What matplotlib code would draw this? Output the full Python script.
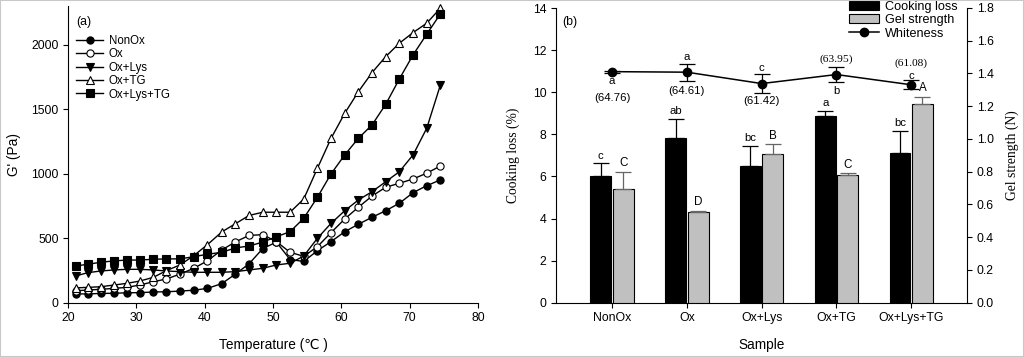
import numpy as np
import matplotlib
matplotlib.use("Agg")
import matplotlib.pyplot as plt
from matplotlib.patches import Patch, Rectangle
from matplotlib.lines import Line2D

plt.rcParams['font.family'] = ['Liberation Sans', 'DejaVu Sans']

# ---- panel (a): storage modulus vs temperature ----
temp = [21.1, 22.9, 24.8, 26.7, 28.6, 30.5, 32.5, 34.4, 36.4, 38.4, 40.4, 42.5, 44.5, 46.5,
        48.5, 50.5, 52.5, 54.5, 56.5, 58.5, 60.5, 62.5, 64.5, 66.5, 68.5, 70.5, 72.5, 74.5]
g_nonox = [68, 68, 72, 73, 77, 78, 83, 85, 90, 97, 111, 148, 222, 302,
           420, 470, 335, 320, 404, 474, 551, 609, 663, 714, 772, 854, 908, 953]
g_ox = [93, 98, 104, 111, 119, 137, 163, 184, 222, 267, 325, 409, 472, 522,
        528, 474, 391, 360, 435, 544, 650, 741, 828, 896, 927, 960, 1005, 1061]
g_ox_lys = [207, 233, 246, 254, 259, 259, 254, 246, 241, 236, 236, 236, 241, 254,
            267, 293, 306, 362, 500, 616, 714, 797, 862, 939, 1017, 1147, 1354, 1690]
g_ox_tg = [115, 119, 124, 137, 150, 168, 197, 249, 293, 365, 450, 549, 613, 677,
           702, 702, 702, 805, 1043, 1276, 1470, 1638, 1786, 1910, 2014, 2096, 2169, 2286]
g_ox_lys_tg = [285, 298, 314, 324, 331, 331, 337, 340, 340, 357, 376, 391, 425, 440,
               470, 512, 551, 655, 818, 1000, 1147, 1276, 1380, 1540, 1737, 1923, 2084, 2241]
series_a = ['NonOx', 'Ox', 'Ox+Lys', 'Ox+TG', 'Ox+Lys+TG']

# ---- panel (b): bars + whiteness ----
samples = ['NonOx', 'Ox', 'Ox+Lys', 'Ox+TG', 'Ox+Lys+TG']
cooking_loss = [6.02, 7.81, 6.51, 8.87, 7.10]
cooking_sd = [0.60, 0.92, 0.95, 0.24, 1.06]
gel_strength = [0.693, 0.552, 0.908, 0.782, 1.212]
gel_sd = [0.107, 0.010, 0.061, 0.008, 0.047]
whiteness = [64.76, 64.61, 61.42, 63.95, 61.08]
whiteness_sd = [0.3, 2.4, 2.6, 2.0, 1.2]
cl_letters = ['c', 'ab', 'bc', 'a', 'bc']
gel_letters = ['C', 'D', 'B', 'C', 'A']
wh_letters = ['a', 'a', 'c', 'b', 'c']

W, H = 1024, 357
fig = plt.figure(figsize=(W / 100, H / 100), dpi=100)
fig.patches.append(Rectangle((0, 0), 1, 1, transform=fig.transFigure, fill=False,
                             edgecolor='#c8c8c8', lw=1.5))

def px_axes(l, t, r, b):
    return fig.add_axes([l / W, 1 - b / H, (r - l) / W, (b - t) / H])

TICK = 8.8

# ---------------- panel (a) ----------------
axA = px_axes(68, 6.3, 478, 302.7)
styles = [dict(marker='o', mfc='black'), dict(marker='o', mfc='white'),
          dict(marker='v', mfc='black'), dict(marker='^', mfc='white'),
          dict(marker='s', mfc='black')]
for name, vals, st in zip(series_a, [g_nonox, g_ox, g_ox_lys, g_ox_tg, g_ox_lys_tg], styles):
    axA.plot(temp, vals, color='black', lw=1.0, ms=5.2, mec='black', mew=0.8,
             label=name, clip_on=False, **st)
axA.set_xlim(20, 80)
axA.set_ylim(0, 2300)
axA.set_xticks(range(20, 81, 10))
axA.set_yticks(range(0, 2001, 500))
for s in ['top', 'right']:
    axA.spines[s].set_visible(False)
for s in ['left', 'bottom']:
    axA.spines[s].set_linewidth(0.8)
axA.tick_params(direction='out', length=3.8, width=0.8, labelsize=TICK, pad=3)
axA.set_xlabel('Temperature (℃ )', fontsize=9.8, family=['Liberation Sans', 'DejaVu Sans'])
axA.xaxis.set_label_coords(0.5, -0.118)
axA.set_ylabel("G' (Pa)", fontsize=9.8)
axA.yaxis.set_label_coords(-0.115, 0.5)
axA.text(84 / W, 1 - 22.5 / H, '(a)', transform=fig.transFigure, fontsize=8.8,
         ha='center', va='center')
axA.legend(loc='upper left', bbox_to_anchor=(76 / W, 1 - 35 / H),
           bbox_transform=fig.transFigure, frameon=False, fontsize=8.3,
           handlelength=2.35, handletextpad=0.5, labelspacing=0.12,
           borderpad=0, borderaxespad=0)

# ---------------- panel (b) ----------------
axB = px_axes(556, 8, 967.3, 302.7)
axB2 = axB.twinx()
axB3 = axB.twinx()
x = np.arange(1, len(samples) + 1)
bw = 0.28
off = 0.15
zeros = np.zeros(len(samples))

axB.bar(x - off, cooking_loss, bw, color='black', edgecolor='black', lw=0.8,
        yerr=[zeros, cooking_sd], error_kw=dict(ecolor='black', elinewidth=0.9, capsize=6, capthick=0.9))
axB2.bar(x + off, gel_strength, bw, color='#c0c0c0', edgecolor='black', lw=0.8,
         yerr=[zeros, gel_sd], error_kw=dict(ecolor='#666666', elinewidth=0.9, capsize=6, capthick=0.9))
axB3.errorbar(x, whiteness, yerr=whiteness_sd, color='black', lw=1.1, marker='o', ms=6,
              ecolor='black', elinewidth=0.9, capsize=5.5, capthick=0.9)

axB.set_xlim(0.25, 5.75)
axB.set_ylim(0, 14)
axB2.set_ylim(0, 1.8)
axB3.set_ylim(0, 82.6)
axB3.axis('off')

axB.set_xticks(x)
axB.set_xticklabels(samples)
axB.set_yticks(range(0, 15, 2))
axB2.set_yticks(np.arange(0, 1.81, 0.2))
axB2.set_yticklabels([f'{v:.1f}' for v in np.arange(0, 1.81, 0.2)])
for a in [axB, axB2]:
    a.spines['top'].set_visible(False)
    for s in ['left', 'right', 'bottom']:
        a.spines[s].set_linewidth(0.8)
axB.spines['right'].set_visible(False)
axB2.spines['left'].set_visible(False)
axB2.spines['bottom'].set_visible(False)
axB.tick_params(direction='out', length=3.8, width=0.8, labelsize=TICK, pad=3)
axB2.tick_params(direction='out', length=3.8, width=0.8, labelsize=TICK, pad=3)

axB.set_xlabel('Sample', fontsize=9.8)
axB.xaxis.set_label_coords(0.5, -0.12)
axB.set_ylabel('Cooking loss (%)', fontsize=9.8, family='Liberation Serif')
axB.yaxis.set_label_coords(-0.088, 0.5)
axB2.set_ylabel('Gel strength (N)', fontsize=9.8, family='Liberation Serif')
axB2.yaxis.set_label_coords(1.093, 0.5)

# letters over the bars
for xi, v, sd, lab in zip(x - off, cooking_loss, cooking_sd, cl_letters):
    axB.annotate(lab, (xi, v + sd), xytext=(0, 5.6), textcoords='offset points',
                 ha='center', va='center', fontsize=8.2)
for xi, v, sd, lab in zip(x + off, gel_strength, gel_sd, gel_letters):
    axB2.annotate(lab, (xi, v + sd), xytext=(0, 6.0), textcoords='offset points',
                  ha='center', va='center', fontsize=8.4)

# whiteness letters and values (offsets in points from the marker)
letter_dy = [-6.7, 10.8, 11.2, -11.5, 6.5]
value_dy = [-19.2, -13.7, -12.5, 11.3, 15.6]
value_font = ['Liberation Sans', 'Liberation Sans', 'Liberation Sans',
              'Liberation Serif', 'Liberation Serif']
for xi, v, lab, dl, dv, fam in zip(x, whiteness, wh_letters, letter_dy, value_dy, value_font):
    axB3.annotate(lab, (xi, v), xytext=(0, dl), textcoords='offset points',
                  ha='center', va='center', fontsize=8.2)
    axB3.annotate(f'({v:.2f})', (xi, v), xytext=(0, dv), textcoords='offset points',
                  ha='center', va='center', fontsize=8.2, family=fam)

axB.text(570 / W, 1 - 21.7 / H, '(b)', transform=fig.transFigure, fontsize=8.8,
         ha='center', va='center')

handles = [Patch(facecolor='black', edgecolor='black', lw=0.8),
           Patch(facecolor='#c0c0c0', edgecolor='black', lw=0.8),
           Line2D([], [], color='black', lw=1.1, marker='o', ms=6)]
axB3.legend(handles, ['Cooking loss', 'Gel strength', 'Whiteness'], loc='upper right',
            bbox_to_anchor=(958 / W, 1 - 1 / H), bbox_transform=fig.transFigure,
            frameon=False, fontsize=9.1, handlelength=2.4, handleheight=0.72,
            handletextpad=0.5, labelspacing=0.1, borderpad=0, borderaxespad=0)

fig.savefig('out.png', dpi=100)
